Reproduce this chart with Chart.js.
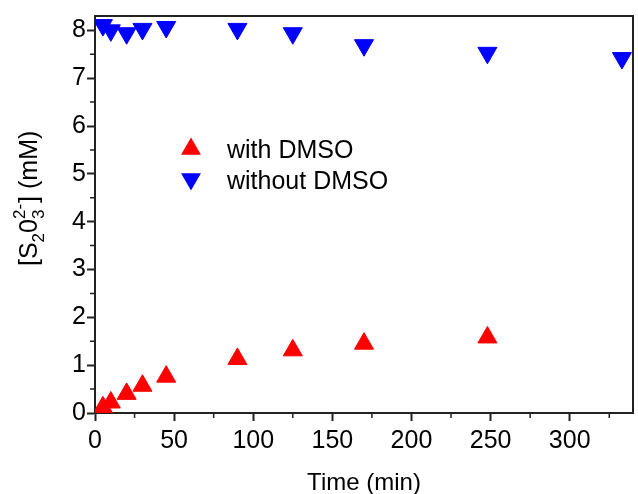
<!DOCTYPE html>
<html>
<head>
<meta charset="utf-8">
<script src="https://cdn.jsdelivr.net/npm/chart.js@4.4.1/dist/chart.umd.min.js"></script>
<style>
  html, body { margin: 0; padding: 0; background: #fff; overflow: hidden; }
  #wrap { position: relative; width: 645px; height: 494px; }
</style>
</head>
<body>
<div id="wrap"><canvas id="chart"></canvas></div>
<script>
// Chart data
const timeWith = [5, 10, 20, 30, 45, 90, 125, 170, 248];
const thioWith = [0.12, 0.22, 0.40, 0.57, 0.76, 1.13, 1.31, 1.45, 1.58];
const timeWithout = [5, 10, 20, 30, 45, 90, 125, 170, 248, 333];
const thioWithout = [8.11, 8.00, 7.94, 8.03, 8.07, 8.03, 7.94, 7.69, 7.53, 7.42];
const seriesLabels = ['with DMSO', 'without DMSO'];
const xTicks = [0, 50, 100, 150, 200, 250, 300];
const yTicks = [0, 1, 2, 3, 4, 5, 6, 7, 8];

const FONT = "'Liberation Sans', Arial, Helvetica, sans-serif";
const AXIS = '#222';

function triangle(ctx, x, y, r, down) {
    const s = down ? -1 : 1;
    ctx.beginPath();
    ctx.moveTo(x, y - s * r);
    ctx.lineTo(x + r * Math.sqrt(3) / 2, y + s * r / 2);
    ctx.lineTo(x - r * Math.sqrt(3) / 2, y + s * r / 2);
    ctx.closePath();
    ctx.fill();
}

// frame line on top + minor ticks
const framePlugin = {
    id: 'frame',
    afterDraw(chart) {
        const {ctx, chartArea: a, scales} = chart;
        ctx.save();
        ctx.strokeStyle = AXIS;
        ctx.lineWidth = 2;
        ctx.beginPath();
        ctx.moveTo(a.left, a.top);
        ctx.lineTo(a.right, a.top);
        ctx.lineTo(a.right, a.bottom);
        ctx.stroke();

        ctx.lineWidth = 1.5;
        ctx.beginPath();
        for (let i = 0; i < xTicks.length; i++) {
            const v = xTicks[i] + 25;
            if (v > scales.x.max) break;
            const px = scales.x.getPixelForValue(v);
            ctx.moveTo(px, a.bottom);
            ctx.lineTo(px, a.bottom + 5);
        }
        for (let i = 0; i < yTicks.length; i++) {
            const v = yTicks[i] + 0.5;
            if (v > scales.y.max) break;
            const py = scales.y.getPixelForValue(v);
            ctx.moveTo(a.left, py);
            ctx.lineTo(a.left - 5, py);
        }
        ctx.stroke();
        ctx.restore();
    }
};

// legend inside the plot
const legendPlugin = {
    id: 'inLegend',
    afterDraw(chart) {
        const {ctx, chartArea: a} = chart;
        ctx.save();
        ctx.font = '25px ' + FONT;
        ctx.textBaseline = 'middle';
        ctx.fillStyle = '#000';
        chart.data.datasets.forEach((ds, i) => {
            const y = a.top + 133 + i * 31;
            ctx.fillStyle = ds.backgroundColor;
            triangle(ctx, a.left + 96, y + (i ? -1 : 0), 11.5, ds.pointRotation === 180);
            ctx.fillStyle = '#000';
            ctx.fillText(ds.label, a.left + 132, y + 2);
        });
        ctx.restore();
    }
};

// y axis title with sub/superscripts
const yTitlePlugin = {
    id: 'yTitle',
    afterDraw(chart) {
        const {ctx, chartArea: a} = chart;
        const big = '25px ' + FONT, small = '17px ' + FONT;
        ctx.save();
        ctx.translate(a.left - 58, a.bottom - 147);
        ctx.rotate(-Math.PI / 2);
        ctx.fillStyle = '#000';
        ctx.textBaseline = 'alphabetic';
        let x = 0;
        const put = (t, f, dy) => {
            ctx.font = f;
            ctx.fillText(t, x, dy);
            return ctx.measureText(t).width;
        };
        x += put('[', big, 0);
        x += put('S', big, 0);
        x += put('2', small, 7);
        x += put('0', big, 0);
        const w1 = put('3', small, 7);
        const w2 = put('2-', small, -12);
        x += Math.max(w1, w2) + 1;
        x += put(']', big, 0);
        put(' (mM)', big, 0);
        ctx.restore();
    }
};

new Chart(document.getElementById('chart').getContext('2d'), {
    type: 'scatter',
    data: {
        datasets: [{
            label: seriesLabels[0],
            data: timeWith.map((t, i) => ({x: t, y: thioWith[i]})),
            pointStyle: 'triangle',
            pointRadius: 11,
            pointHoverRadius: 11,
            backgroundColor: '#ff0000',
            borderColor: '#ff0000',
            borderWidth: 1
        }, {
            label: seriesLabels[1],
            data: timeWithout.map((t, i) => ({x: t, y: thioWithout[i]})),
            pointStyle: 'triangle',
            pointRotation: 180,
            pointRadius: 11,
            pointHoverRadius: 11,
            backgroundColor: '#0000ff',
            borderColor: '#0000ff',
            borderWidth: 1
        }]
    },
    options: {
        responsive: true,
        maintainAspectRatio: false,
        animation: false,
        layout: { padding: { top: 15, right: 6, left: 0, bottom: 0 } },
        plugins: {
            legend: { display: false },
            tooltip: { enabled: false }
        },
        scales: {
            x: {
                type: 'linear',
                min: 0,
                max: 340,
                afterBuildTicks: s => { s.ticks = xTicks.map(v => ({value: v})); },
                afterFit: s => { s.height = 81; },
                grid: { drawOnChartArea: false, tickLength: 8, tickColor: AXIS, tickWidth: 2 },
                border: { color: AXIS, width: 2 },
                ticks: { color: '#000', font: { size: 25, family: FONT }, padding: 5, maxRotation: 0, autoSkip: false },
                title: { display: true, text: 'Time (min)', color: '#000', font: { size: 24, family: FONT }, padding: { top: 0, bottom: -4 } }
            },
            y: {
                type: 'linear',
                min: 0,
                max: 8.3,
                afterBuildTicks: s => { s.ticks = yTicks.map(v => ({value: v})); },
                afterFit: s => { s.width = 95; },
                grid: { drawOnChartArea: false, tickLength: 8, tickColor: AXIS, tickWidth: 2 },
                border: { color: AXIS, width: 2 },
                ticks: { color: '#000', font: { size: 25, family: FONT }, padding: 1 }
            }
        }
    },
    plugins: [framePlugin, legendPlugin, yTitlePlugin]
});
</script>
</body>
</html>
